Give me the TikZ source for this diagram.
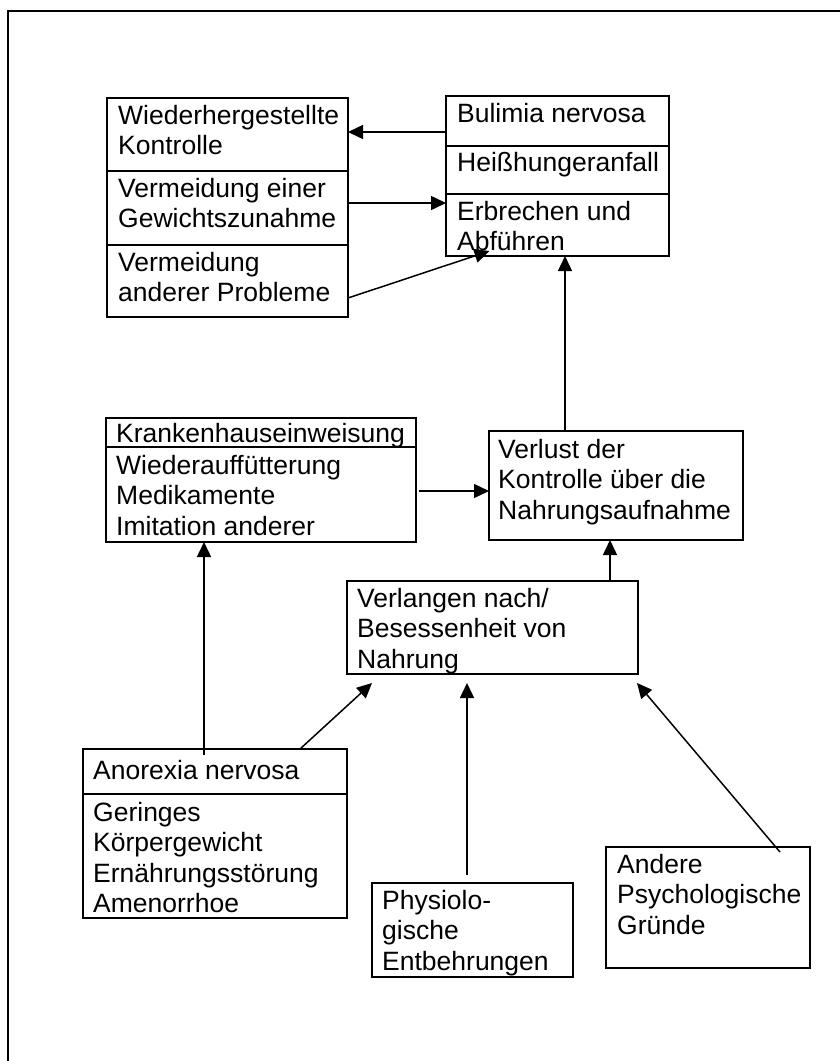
\documentclass[tikz,border=0pt]{standalone}
\usepackage{fontspec}
\setmainfont{Liberation Sans}
\usetikzlibrary{arrows.meta,calc}
\begin{document}
\begin{tikzpicture}[x=1pt,y=-1pt,
  box/.style={draw,line width=2pt,inner sep=0pt,outer sep=0pt,anchor=north west},
  lbl/.style={inner sep=0pt,anchor=north west,align=left,font=\fontsize{26.5}{30.5}\selectfont},
  arr/.style={line width=1.5pt,-{Triangle[length=15pt,width=14pt]}},
  ln/.style={line width=1.5pt}]
\useasboundingbox (0,0) rectangle (840,1061);
% outer frame
\coordinate (fbl) at (8,1061);
\coordinate (ftl) at (8,11);
\coordinate (ftr) at (840,11);
\draw[line width=2.5pt] (fbl) -- (ftl) -- (ftr);
% boxes
\node[box,minimum width=241pt,minimum height=73pt] (A1) at (107,98) {};
\node[box,minimum width=241pt,minimum height=74pt] (A2) at (107,171) {};
\node[box,minimum width=241pt,minimum height=72pt] (A3) at (107,245) {};
\node[box,minimum width=223pt,minimum height=50pt] (B1) at (446,96) {};
\node[box,minimum width=223pt,minimum height=48pt] (B2) at (446,146) {};
\node[box,minimum width=223pt,minimum height=62pt] (B3) at (446,194) {};
\node[box,minimum width=310pt,minimum height=29pt] (C1) at (106,418) {};
\node[box,minimum width=310pt,minimum height=95pt] (C2) at (106,447) {};
\node[box,minimum width=254pt,minimum height=109pt] (V) at (489,431) {};
\node[box,minimum width=291pt,minimum height=93pt] (D) at (347,581) {};
\node[box,minimum width=264pt,minimum height=45pt] (E1) at (83,749) {};
\node[box,minimum width=264pt,minimum height=124pt] (E2) at (83,794) {};
\node[box,minimum width=201pt,minimum height=94pt] (F) at (372,883) {};
\node[box,minimum width=204pt,minimum height=121pt] (G) at (606,847) {};
% texts
\node[lbl] (A1t) at ([shift={(11pt,-7pt)}]A1.north west) {Wiederhergestellte\\Kontrolle};
\node[lbl] (A2t) at ([shift={(11pt,-7pt)}]A2.north west) {Vermeidung einer\\Gewichtszunahme};
\node[lbl] (A3t) at ([shift={(11pt,-7pt)}]A3.north west) {Vermeidung\\anderer Probleme};
\node[lbl] (B1t) at ([shift={(11pt,-7pt)}]B1.north west) {Bulimia nervosa};
\node[lbl] (B2t) at ([shift={(11pt,-6pt)}]B2.north west) {Heißhungeranfall};
\node[lbl] (B3t) at ([shift={(11pt,-7pt)}]B3.north west) {Erbrechen und\\Abführen};
\node[lbl] (C1t) at ([shift={(10pt,-5pt)}]C1.north west) {Krankenhauseinweisung};
\node[lbl] (C2t) at ([shift={(10pt,-8pt)}]C2.north west) {Wiederauffütterung\\Medikamente\\Imitation anderer};
\node[lbl] (Vt) at ([shift={(9pt,-8pt)}]V.north west) {Verlust der\\Kontrolle über die\\Nahrungsaufnahme};
\node[lbl] (Dt) at ([shift={(10pt,-7pt)}]D.north west) {Verlangen nach/\\Besessenheit von\\Nahrung};
\node[lbl] (E1t) at ([shift={(10pt,-11pt)}]E1.north west) {Anorexia nervosa};
\node[lbl] (E2t) at ([shift={(10pt,-8pt)}]E2.north west) {Geringes\\Körpergewicht\\Ernährungsstörung\\Amenorrhoe};
\node[lbl] (Ft) at ([shift={(10pt,-7pt)}]F.north west) {Physiolo-\\gische\\Entbehrungen};
\node[lbl] (Gt) at ([shift={(11pt,-7pt)}]G.north west) {Andere\\Psychologische\\Gründe};
% connectors
\draw[arr] ([yshift=-11pt]B1.west) -- ([yshift=-11pt]B1.west -| A1.east);
\draw[arr] ([yshift=5pt]A2.east) -- ([yshift=5pt]A2.east -| B3.west);
\draw[arr] ([yshift=-17pt]A3.east) -- ([xshift=-68pt,yshift=5pt]B3.south);
\draw[arr] ([xshift=-51pt]V.north) -- ([xshift=-51pt]V.north |- B3.south);
\draw[arr] ([xshift=3pt,yshift=3.5pt]C2.east) -- ([yshift=3.5pt]C2.east -| V.west);
\draw[arr] ([xshift=117.5pt]D.north) -- ([xshift=117.5pt]D.north |- V.south);
\draw[arr] ([xshift=-11pt,yshift=-6pt]E1.north) -- ([xshift=-11pt]E1.north |- C2.south);
\draw[arr] ([xshift=85pt]E1.north) -- ([xshift=-120.5pt,yshift=-9pt]D.south);
\draw[arr] ([xshift=-5.5pt,yshift=8pt]F.north) -- ([xshift=-25.5pt,yshift=-9pt]D.south);
\draw[arr] ([xshift=72pt,yshift=-5pt]G.north) -- ([xshift=144.5pt,yshift=-9pt]D.south);
\end{tikzpicture}
\end{document}
